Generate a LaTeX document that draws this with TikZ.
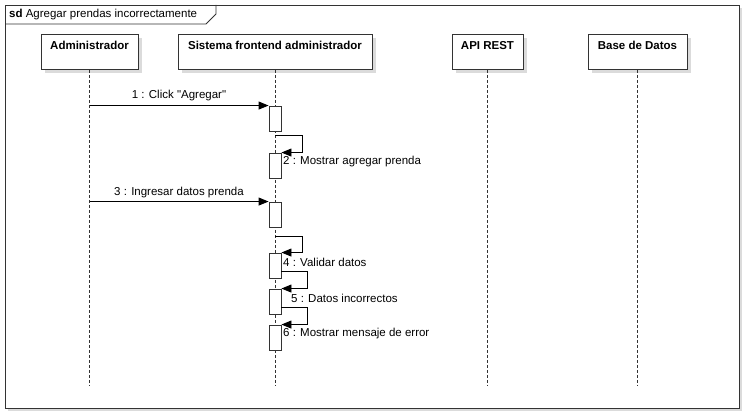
\documentclass[tikz,border=0pt]{standalone}
\usepackage{fontspec}
\setmainfont{Liberation Sans}
\usetikzlibrary{arrows.meta, calc, shadows}

\begin{document}
\begin{tikzpicture}[
    x=1pt, y=-1pt,
    every node/.style={font=\fontsize{11.5}{13}\selectfont},
    head/.style={
        rectangle,
        draw=linegray,
        fill=white,
        line width=0.9pt,
        minimum height=35pt,
        text height=12pt,
        text depth=17pt,
        inner ysep=3pt,
        anchor=north,
        font=\fontsize{11.5}{13}\selectfont\bfseries,
        drop shadow={shadow xshift=4pt, shadow yshift=-4pt, fill=black!20, opacity=0.7}
    },
    act/.style={
        rectangle,
        draw=linegray,
        fill=white,
        line width=0.9pt,
        minimum width=12pt,
        minimum height=25pt,
        inner sep=0pt
    },
    life/.style={draw=linegray, line width=0.9pt, dash pattern=on 3pt off 2pt},
    msg/.style={draw=black, line width=0.9pt, -{Triangle[length=10pt,width=8pt]}},
    lbl/.style={inner sep=0pt}
]

\definecolor{linegray}{RGB}{51, 51, 51}

\useasboundingbox (0, 0) rectangle (746, 414);

% frame
\draw[draw=linegray, fill=white, line width=0.9pt,
    drop shadow={shadow xshift=3pt, shadow yshift=-3pt, fill=black!20, opacity=0.7}]
    (5, 5) rectangle (739, 408);
\node[lbl, anchor=west] (title) at (9, 14.5) {\textbf{sd} Agregar prendas incorrectamente};
\draw[linegray, line width=0.9pt] (5, 24) -- (206, 24) -- (216, 14) -- (216, 5);

% lifelines
\node[head, minimum width=97pt]  (admin) at (89.5, 34)  {Administrador};
\node[head, minimum width=194pt] (front) at (275, 34)   {Sistema frontend administrador};
\node[head, minimum width=71pt]  (api)   at (487.5, 34) {API REST};
\node[head, minimum width=99pt]  (db)    at (637.5, 34) {Base de Datos};

\coordinate (bottom) at (0, 385);
\foreach \p in {admin, front, api, db}
    \draw[life] (\p.south) -- (\p.south |- bottom);

% activations
\node[act] (a1) at (275, 118.5) {};
\node[act] (a2) at (275, 165.5) {};
\node[act] (a3) at (275, 214.5) {};
\node[act] (a4) at (275, 265.5) {};
\node[act] (a5) at (275, 301.5) {};
\node[act] (a6) at (275, 337.5) {};

% messages
\draw[msg] (admin.south |- a1.north west) -- (a1.north west);
\draw[msg] ($(a1.south)+(0, 4)$) -- ++(27, 0) |- (a2.north east);
\draw[msg] (admin.south |- a3.north west) -- (a3.north west);
\draw[msg] ($(a3.south)+(0, 9)$) -- ++(27, 0) |- (a4.north east);
\draw[msg] ($(a4.east)+(0, 6)$) -- ++(26, 0) |- (a5.north east);
\draw[msg] ($(a5.east)+(0, 6)$) -- ++(26, 0) |- (a6.north east);

\node[lbl] (l1) at (179, 96) {1 : Click \textquotedbl Agregar\textquotedbl};
\node[lbl, anchor=west] (l2) at (283, 161.5) {2 : Mostrar agregar prenda};
\node[lbl] (l3) at (179, 193) {3 : Ingresar datos prenda};
\node[lbl, anchor=west] (l4) at (283, 262) {4 : Validar datos};
\node[lbl, anchor=west] (l5) at (291, 298) {5 : Datos incorrectos};
\node[lbl, anchor=west] (l6) at (283, 334) {6 : Mostrar mensaje de error};

\end{tikzpicture}
\end{document}
